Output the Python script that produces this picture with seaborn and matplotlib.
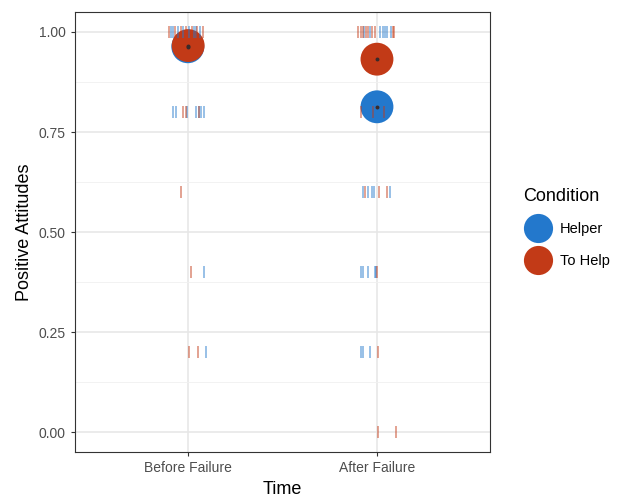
import numpy as np
import pandas as pd
import matplotlib
matplotlib.use("Agg")
import matplotlib.pyplot as plt
from matplotlib.lines import Line2D
import seaborn as sns

# categories
times = ["Before Failure", "After Failure"]
conditions = ["Helper", "To Help"]
colors = {"Helper": "#2378CC", "To Help": "#C23A17"}

# individual responses: (time, condition, y value) with horizontal jitter
jit_before_helper = [-0.090, -0.079, -0.053, -0.026, 0.005, 0.032, 0.042, 0.063,
                     -0.078, -0.063, -0.004, 0.042, 0.055, 0.067, 0.085,
                     0.085, 0.095]
val_before_helper = [1.0] * 8 + [0.8] * 7 + [0.4, 0.2]

jit_before_tohelp = [-0.100, -0.069, -0.037, -0.011, 0.021, 0.048, 0.079,
                     -0.025, -0.014, 0.055,
                     -0.037, 0.017, 0.002, 0.051]
val_before_tohelp = [1.0] * 7 + [0.8] * 3 + [0.6, 0.4, 0.2, 0.2]

jit_after_helper = [-0.069, -0.037, 0.016, 0.032, 0.042, 0.053, 0.074,
                    0.000, 0.057,
                    -0.075, -0.048, -0.025, -0.014, 0.069,
                    -0.086, -0.076, -0.048, -0.011, -0.005,
                    -0.085, -0.072, -0.037]
val_after_helper = [1.0] * 7 + [0.8] * 2 + [0.6] * 5 + [0.4] * 5 + [0.2] * 3

jit_after_tohelp = [-0.100, -0.085, -0.074, -0.058, -0.048, -0.026, -0.011, 0.085, 0.090,
                    -0.086, -0.020, 0.039,
                    -0.062, 0.009, 0.051,
                    0.002, 0.007, 0.004, 0.100]
val_after_tohelp = [1.0] * 9 + [0.8] * 3 + [0.6] * 3 + [0.4, 0.2, 0.0, 0.0]

# condition means
mean_before = {"Helper": 0.963, "To Help": 0.966}
mean_after = {"Helper": 0.813, "To Help": 0.932}

rows = []
for t, c, jit, val in [
    (0, "Helper", jit_before_helper, val_before_helper),
    (0, "To Help", jit_before_tohelp, val_before_tohelp),
    (1, "Helper", jit_after_helper, val_after_helper),
    (1, "To Help", jit_after_tohelp, val_after_tohelp),
]:
    for j, v in zip(jit, val):
        rows.append({"x": t + j, "value": v, "Condition": c})
df = pd.DataFrame(rows)

means = pd.DataFrame([
    {"x": 0 - 0.002, "value": mean_before["Helper"], "Condition": "Helper"},
    {"x": 0, "value": mean_before["To Help"], "Condition": "To Help"},
    {"x": 1, "value": mean_after["Helper"], "Condition": "Helper"},
    {"x": 1, "value": mean_after["To Help"], "Condition": "To Help"},
])

plt.rcParams["font.family"] = ["Liberation Sans", "DejaVu Sans"]
fig = plt.figure(figsize=(6.19, 4.98), dpi=100)
ax = fig.add_axes([0.121, 0.092, 0.671, 0.884])

sns.scatterplot(data=means, x="x", y="value", hue="Condition", palette=colors,
                s=560, linewidth=0, legend=False, ax=ax, zorder=3)
sns.scatterplot(data=df, x="x", y="value", hue="Condition", palette=colors,
                marker="|", s=80, linewidth=1.2, alpha=0.55, legend=False, ax=ax, zorder=4)
sns.scatterplot(data=means, x="x", y="value", color="#3a2a2a", s=8, linewidth=0,
                legend=False, ax=ax, zorder=5)

ax.set_xlim(-0.6, 1.6)
ax.set_ylim(-0.05, 1.05)
ax.set_xticks([0, 1])
ax.set_xticklabels(times)
ax.set_yticks([0, 0.25, 0.5, 0.75, 1.0])
ax.set_yticklabels(["0.00", "0.25", "0.50", "0.75", "1.00"])
ax.set_yticks([0.125, 0.375, 0.625, 0.875], minor=True)
ax.tick_params(axis="y", which="minor", length=0)
ax.tick_params(which="major", length=3, color="#333333", labelcolor="#4D4D4D", labelsize=10)
ax.grid(True, which="major", color="#E6E6E6", linewidth=1.1, zorder=0)
ax.grid(True, which="minor", axis="y", color="#F0F0F0", linewidth=0.6, zorder=0)
ax.set_axisbelow(True)
for s in ax.spines.values():
    s.set_color("#333333")
    s.set_linewidth(0.8)
ax.set_xlabel("Time", fontsize=13)
ax.set_ylabel("Positive Attitudes", fontsize=13)

handles = [Line2D([], [], marker="o", linestyle="", markersize=21, markerfacecolor=colors[c],
                  markeredgewidth=0) for c in conditions]
fig.legend(handles, conditions, title="Condition", loc="upper left",
           bbox_to_anchor=(0.824, 0.649), frameon=False, fontsize=10.5,
           title_fontsize=13, handletextpad=0.5, labelspacing=1.2, alignment="left")

fig.savefig("out.png", dpi=100)
